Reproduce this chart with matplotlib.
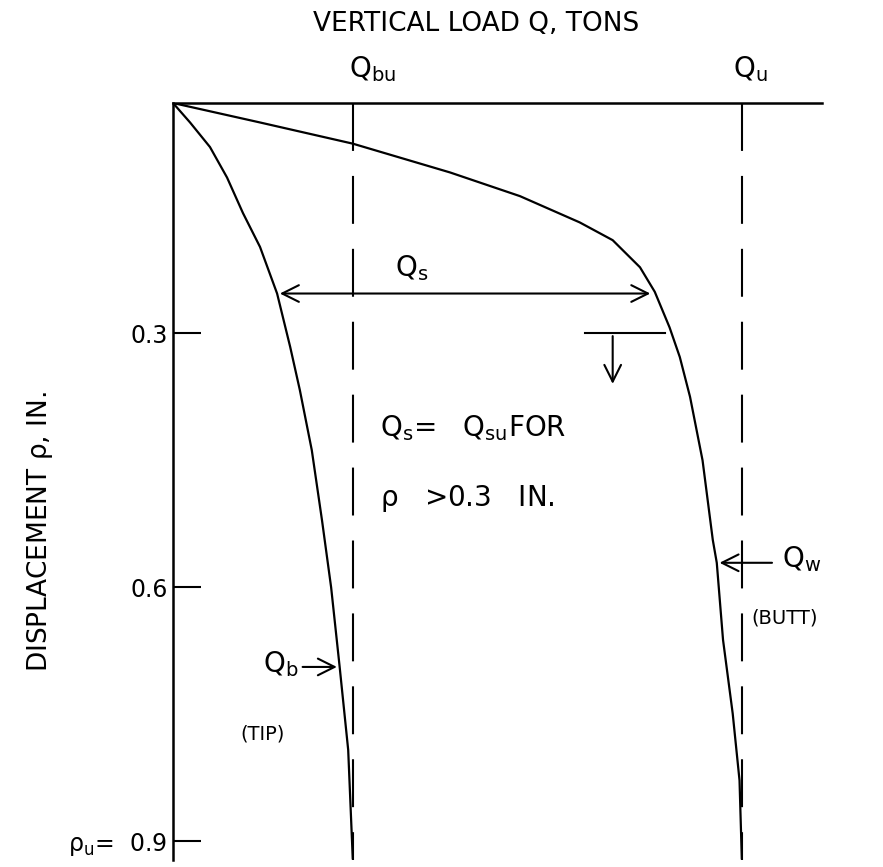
import numpy as np
import matplotlib
matplotlib.use('Agg')
import matplotlib.pyplot as plt

plt.rcParams['font.family'] = ['DejaVu Sans']
plt.rcParams['mathtext.default'] = 'regular'

# Curva da ponta (tip) e do topo (butt) - carga Q [t] x deslocamento rho [in]
Q_tip = [0, 3.0, 6.5, 9.5, 12.3, 15.3, 18.3, 20.6, 22.3, 24.4, 26.2, 27.8, 29.3, 30.8, 31.6]
rho_tip = [0.028, 0.051, 0.080, 0.116, 0.158, 0.198, 0.253, 0.316, 0.367, 0.438,
           0.521, 0.600, 0.694, 0.792, 0.920]

Q_butt = [0, 15.3, 31.6, 48.7, 61.0, 71.5, 77.3, 82.1, 84.7, 87.3, 89.1, 90.9,
          93.1, 94.9, 95.6, 96.7, 98.4, 99.6, 100.0]
rho_butt = [0.028, 0.051, 0.076, 0.110, 0.138, 0.169, 0.190, 0.222, 0.251, 0.293,
            0.328, 0.375, 0.450, 0.544, 0.571, 0.662, 0.749, 0.828, 0.920]

Q_bu, Q_u = 31.6, 100.0
rho_ticks = [0.3, 0.6, 0.9]
rho_labels = ['0.3', '0.6', r'$\rho_u$=  0.9']
rho_qs = 0.253      # nivel da seta Q_s
rho_qw = 0.571      # nivel da seta Q_w
rho_qb = 0.694      # nivel da seta Q_b

fig = plt.figure(figsize=(8.83, 8.67), dpi=100)
ax = fig.add_axes([173/883, 1 - 860/867, (822-173)/883, (860-103)/867])

ax.plot(Q_tip, rho_tip, color='black', lw=1.6)
ax.plot(Q_butt, rho_butt, color='black', lw=1.6)

# linhas tracejadas Q_bu e Q_u
for q in (Q_bu, Q_u):
    ax.plot([q, q], [0.028, 0.922], color='black', lw=1.5, dashes=(23, 12))

ax.set_xlim(0, 114.1)
ax.set_ylim(0.922, 0.028)

#Deixando parecido
for s in ('right', 'bottom'):
    ax.spines[s].set_visible(False)
for s in ('top', 'left'):
    ax.spines[s].set_linewidth(1.8)
ax.set_xticks([])
ax.set_yticks(rho_ticks)
ax.set_yticklabels(rho_labels)
ax.tick_params(axis='y', direction='in', length=20, width=1.5, pad=4, labelsize=17)

# rotulos no topo
ax.text(Q_bu + 3.5, 0.005, r'$Q_{bu}$', fontsize=20, ha='center', va='bottom', clip_on=False)
ax.text(Q_u + 1.5, 0.005, r'$Q_u$', fontsize=20, ha='center', va='bottom', clip_on=False)

# seta dupla Q_s
ax.annotate('', xy=(18.3, rho_qs), xytext=(84.4, rho_qs),
            arrowprops=dict(arrowstyle='<->', lw=1.5, mutation_scale=30, color='black'))
ax.text(42, rho_qs - 0.012, r'$Q_s$', fontsize=20, ha='center', va='bottom')

# marca em 0.3 com seta para baixo
ax.plot([72.4, 86.5], [0.3, 0.3], color='black', lw=1.5)
ax.annotate('', xy=(77.3, 0.363), xytext=(77.3, 0.3),
            arrowprops=dict(arrowstyle='->', lw=1.5, mutation_scale=30, color='black'))

ax.text(36.4, 0.412, r'$Q_s$=   $Q_{su}$FOR', fontsize=20, ha='left', va='center')
ax.text(36.4, 0.495, r'$\rho$   >0.3   IN.', fontsize=20, ha='left', va='center')

# Q_w
ax.annotate('', xy=(95.6, rho_qw), xytext=(105.8, rho_qw),
            arrowprops=dict(arrowstyle='->', lw=1.5, mutation_scale=30, color='black'))
ax.text(107.0, rho_qw - 0.004, r'$Q_w$', fontsize=20, ha='left', va='center', clip_on=False)
ax.text(101.6, 0.636, '(BUTT)', fontsize=14, ha='left', va='center', clip_on=False)

# Q_b
ax.annotate('', xy=(29.3, rho_qb), xytext=(22.3, rho_qb),
            arrowprops=dict(arrowstyle='->', lw=1.5, mutation_scale=30, color='black'))
ax.text(22.0, rho_qb - 0.003, r'$Q_b$', fontsize=20, ha='right', va='center')
ax.text(15.8, 0.773, '(TIP)', fontsize=14, ha='center', va='center')

fig.text(476/883, 1 - 24/867, 'VERTICAL LOAD Q, TONS', fontsize=19, ha='center', va='center')
fig.text(40/883, 1 - 532/867, r'DISPLACEMENT $\rho$, IN.', fontsize=19,
         ha='center', va='center', rotation=90)

fig.savefig('out.png', dpi=100)
